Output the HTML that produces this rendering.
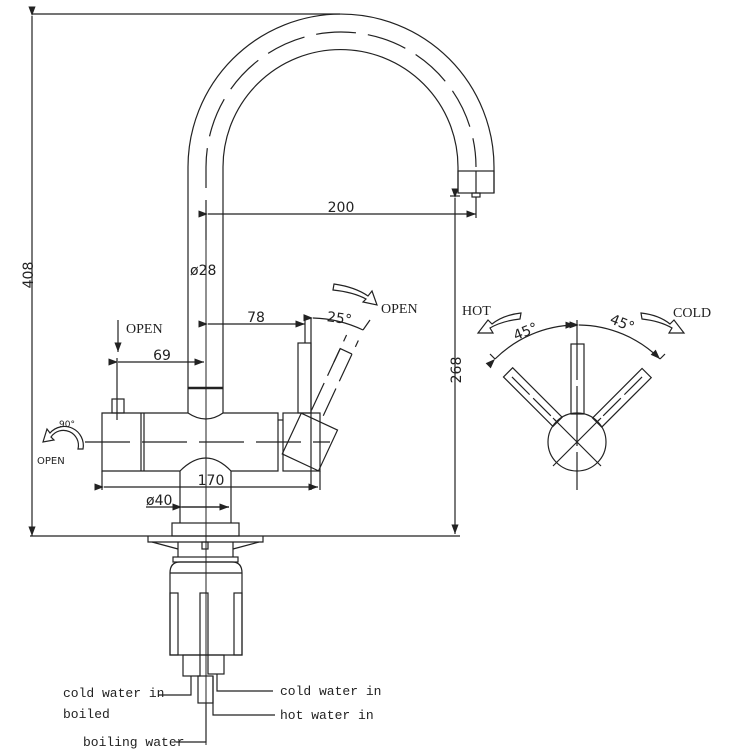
<!DOCTYPE html>
<html><head><meta charset="utf-8"><style>
html,body{margin:0;padding:0;background:#fff;}
svg{display:block;}
text{fill:#222;}
.d{font-family:"DejaVu Sans","Liberation Sans",sans-serif;font-size:14px;}
.m{font-family:"Liberation Mono",monospace;font-size:13px;}
.s{font-family:"Liberation Serif",serif;font-size:14px;}
</style></head><body>
<svg width="750" height="750" viewBox="0 0 750 750" xmlns="http://www.w3.org/2000/svg" fill="none" stroke="#222" stroke-width="1.2">
<defs>
<marker id="a" markerWidth="8" markerHeight="6" refX="8" refY="3" orient="auto"><path d="M0,0 L8,3 L0,6" fill="#222" stroke="none"/></marker>
</defs>
<!-- spout -->
<path d="M188,413 L188,167 A153,153 0 0 1 494,167 L494,193"/>
<path d="M223,388 L223,167 A117,117 0 0 1 458,167 L458,193"/>
<path d="M206,240 L206,167 A135,135 0 0 1 476,167" stroke-dasharray="40,12"/>
<rect x="458" y="171" width="36" height="22"/>
<line x1="476" y1="171" x2="476" y2="193"/>
<rect x="472" y="193" width="8" height="4"/>
<!-- vertical tube lower -->
<line x1="223" y1="388" x2="223" y2="413"/>
<line x1="188" y1="388" x2="223" y2="388" stroke-width="2.5"/>
<!-- centerline -->
<line x1="206" y1="240" x2="206" y2="745" stroke-width="1"/>
<!-- body -->
<path d="M102,413 L188,413 Q206,425 223,413 L278,413 L278,471 L231,471 Q206,445 180,471 L102,471 Z"/>
<line x1="141" y1="413" x2="141" y2="471"/><line x1="144" y1="413" x2="144" y2="471"/>
<rect x="112" y="399" width="12" height="14"/>
<line x1="85" y1="442" x2="330" y2="442" stroke-dasharray="45,12"/>
<!-- right housing -->
<rect x="283" y="413" width="37" height="58"/>
<line x1="278" y1="420" x2="283" y2="420"/>
<rect x="298" y="343" width="13" height="70"/>
<line x1="311" y1="318" x2="311" y2="490"/>
<g transform="rotate(25 311 442)">
<rect x="290" y="420" width="40" height="45"/>
<line x1="298" y1="413" x2="298" y2="330" stroke-dasharray="30,8"/>
<line x1="311" y1="413" x2="311" y2="330" stroke-dasharray="30,8"/>
<path d="M298,360 L298,345 L311,345"/>
</g>
<!-- column & ring -->
<path d="M180,471 L180,523 M231,471 L231,523"/>
<rect x="172" y="523" width="67" height="13"/>
<line x1="30" y1="536" x2="460" y2="536"/>
<!-- under counter -->
<path d="M148,536 L148,542 L263,542 L263,536"/>
<path d="M152,542 L178,549 M259,542 L233,549"/>
<path d="M178,542 L178,557 M233,542 L233,557"/>
<rect x="202" y="542" width="6" height="7"/>
<rect x="173" y="557" width="65" height="5"/>
<path d="M170,655 L170,573 Q170,562 180,562 L232,562 Q242,562 242,573 L242,655 Z"/>
<line x1="170" y1="573" x2="242" y2="573"/>
<rect x="170" y="593" width="8" height="62"/><rect x="200" y="593" width="8" height="62"/><rect x="234" y="593" width="8" height="62"/>
<rect x="183" y="655" width="17" height="21"/>
<rect x="208" y="655" width="16" height="19"/>
<rect x="198" y="676" width="15" height="27"/>
<path d="M158,695 L191,695 L191,676"/>
<path d="M217,674 L217,691 L273,691"/>
<path d="M213,676 L213,715 L275,715"/>
<path d="M206,703 L206,742 L176,742"/>
<!-- dimensions -->
<line x1="32" y1="14" x2="340" y2="14"/>
<line x1="32" y1="16" x2="32" y2="536" marker-start="url(#a)" marker-end="url(#a)"/>
<line x1="208" y1="214" x2="476" y2="214" marker-start="url(#a)" marker-end="url(#a)"/>
<line x1="476" y1="197" x2="476" y2="218"/>
<line x1="450" y1="196" x2="460" y2="196"/>
<line x1="455" y1="198" x2="455" y2="534" marker-start="url(#a)" marker-end="url(#a)"/>
<line x1="208" y1="324" x2="305" y2="324" marker-start="url(#a)" marker-end="url(#a)"/>
<line x1="305" y1="318" x2="305" y2="343"/>
<line x1="118" y1="362" x2="204" y2="362" marker-start="url(#a)" marker-end="url(#a)"/>
<line x1="117" y1="358" x2="117" y2="420"/>
<line x1="118" y1="320" x2="118" y2="352" marker-end="url(#a)"/>
<line x1="104" y1="487" x2="318" y2="487" marker-start="url(#a)" marker-end="url(#a)"/>
<line x1="320" y1="471" x2="320" y2="490"/>
<line x1="102" y1="471" x2="102" y2="490"/>
<line x1="146" y1="507" x2="229" y2="507"/>
<line x1="182" y1="507" x2="229" y2="507" marker-start="url(#a)" marker-end="url(#a)"/>
<path d="M313,318 A124,124 0 0 1 363,330" marker-start="url(#a)"/>
<line x1="363" y1="330" x2="370" y2="320"/>
<!-- arrows -->
<path d="M83,449 A19,19 0 0 0 50,433 L47,429 L43,442 L54,440 L51,437 A15,15 0 0 1 78,449 Z"/>
<path d="M334,284 Q355,287 368,296 L372,291 L377,305 L363,302 L366,299 Q353,292 333,290 Z"/>
<path d="M521,313 Q503,315 492,324 L488,320 L478,333 L493,333 L490,328 Q502,321 520,319 Z"/>
<path d="M641,313 Q659,315 670,324 L674,320 L684,333 L669,333 L672,328 Q660,321 642,319 Z"/>
<!-- right view -->
<circle cx="577" cy="442" r="29"/>
<line x1="577" y1="320" x2="577" y2="490" stroke-dasharray="60,6"/>
<path d="M553,418 L601,466 M601,418 L553,466"/>
<rect x="571" y="344" width="13" height="70"/>
<g transform="rotate(-45 577 442)"><rect x="571" y="344" width="13" height="70"/><line x1="577" y1="350" x2="577" y2="412" stroke-dasharray="25,5"/></g>
<g transform="rotate(45 577 442)"><rect x="571" y="344" width="13" height="70"/><line x1="577" y1="350" x2="577" y2="412" stroke-dasharray="25,5"/></g>
<path d="M495,359 A117,117 0 0 1 575,325" marker-start="url(#a)" marker-end="url(#a)"/>
<path d="M579,325 A117,117 0 0 1 660,359" marker-start="url(#a)" marker-end="url(#a)"/>
<line x1="495" y1="359" x2="490" y2="354"/><line x1="660" y1="359" x2="665" y2="354"/>
<g stroke="none">
<text class="d" x="0" y="0" transform="translate(33,275) rotate(-90)" text-anchor="middle">408</text>
<text class="d" x="0" y="0" transform="translate(461,370) rotate(-90)" text-anchor="middle">268</text>
<text class="d" x="341" y="212" text-anchor="middle">200</text>
<text class="d" x="190" y="275">ø28</text>
<text class="d" x="256" y="322" text-anchor="middle">78</text>
<text class="d" x="162" y="360" text-anchor="middle">69</text>
<text class="d" x="211" y="485" text-anchor="middle">170</text>
<text class="d" x="146" y="505">ø40</text>
<text class="d" x="327" y="323" transform="rotate(8 340 318)">25°</text>
<text class="s" x="126" y="333">OPEN</text>
<text class="s" x="381" y="313">OPEN</text>
<text class="s" x="462" y="315">HOT</text>
<text class="s" x="673" y="317">COLD</text>
<text class="d" x="512" y="335" transform="rotate(-22 528 328)">45°</text>
<text class="d" x="608" y="328" transform="rotate(22 622 328)">45°</text>
<text class="d" x="59" y="427" style="font-size:9px">90°</text>
<text class="d" x="37" y="464" style="font-size:10px">OPEN</text>
<text class="m" x="63" y="697">cold water in</text>
<text class="m" x="63" y="718">boiled</text>
<text class="m" x="280" y="695">cold water in</text>
<text class="m" x="280" y="719">hot water in</text>
<text class="m" x="83" y="746">boiling water</text>
</g>
</svg>
</body></html>
